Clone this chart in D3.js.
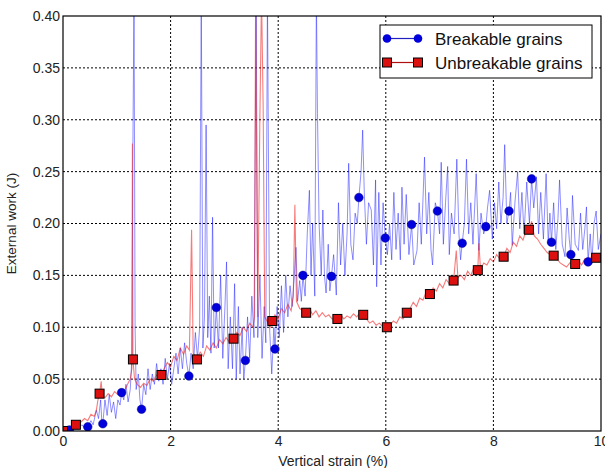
<!DOCTYPE html>
<html>
<head>
<meta charset="utf-8">
<script src="https://cdn.jsdelivr.net/npm/d3@7"></script>
<style>
  body { margin: 0; background: #fff; }
  text { font-family: "Liberation Sans", Arial, sans-serif; }
</style>
</head>
<body>
<svg width="605" height="468"></svg>
<script>
// ticks
var xTicks = [0, 2, 4, 6, 8, 10];
var yTicks = [0, 0.05, 0.10, 0.15, 0.20, 0.25, 0.30, 0.35, 0.40];

// markers (every n-th sample of each run)
var brkMarkers = [[0.12,0.001],[0.46,0.004],[0.74,0.007],[1.09,0.037],[1.46,0.021],[2.34,0.053],
  [2.85,0.119],[3.39,0.068],[3.94,0.079],[4.46,0.150],[4.99,0.149],[5.50,0.225],[5.99,0.186],
  [6.48,0.199],[6.96,0.212],[7.42,0.181],[7.86,0.197],[8.29,0.212],[8.71,0.243],[9.08,0.182],
  [9.44,0.170],[9.76,0.163]];
var unbMarkers = [[0,0],[0.24,0.006],[0.68,0.036],[1.30,0.069],[1.83,0.054],[2.49,0.069],
  [3.17,0.089],[3.89,0.106],[4.52,0.114],[5.10,0.108],[5.58,0.112],[6.02,0.100],[6.39,0.114],
  [6.82,0.132],[7.26,0.145],[7.71,0.155],[8.19,0.168],[8.66,0.194],[9.12,0.169],[9.52,0.161],
  [9.91,0.167]];

// raw work curves
var brkTrace = [[0,0],[0.05,0.001],[0.2,0.003],[0.28,0.002],[0.35,0.006],[0.4,0.003],[0.52,0.010],
  [0.56,0.006],[0.62,0.020],[0.66,0.012],[0.70,0.030],[0.72,0.010],[0.78,0.030],[0.82,0.015],
  [0.86,0.035],[0.90,0.018],[0.94,0.028],[0.98,0.012],[1.02,0.030],[1.06,0.025],[1.13,0.030],
  [1.17,0.045],[1.21,0.028],[1.25,0.040],[1.28,0.070],[1.30,0.280],[1.32,0.420],[1.34,0.100],
  [1.36,0.040],[1.40,0.055],[1.43,0.030],[1.50,0.045],[1.54,0.035],[1.58,0.060],[1.62,0.040],
  [1.66,0.055],[1.70,0.045],[1.74,0.065],[1.78,0.048],[1.82,0.060],[1.86,0.045],[1.90,0.070],
  [1.94,0.050],[1.98,0.065],[2.02,0.045],[2.06,0.060],[2.10,0.075],[2.14,0.055],[2.18,0.080],
  [2.22,0.060],[2.26,0.085],[2.30,0.065],[2.38,0.075],[2.42,0.060],[2.46,0.095],[2.50,0.070],
  [2.54,0.100],[2.57,0.420],[2.60,0.080],[2.63,0.110],[2.66,0.295],[2.69,0.090],[2.72,0.130],
  [2.75,0.075],[2.78,0.206],[2.81,0.080],[2.89,0.080],[2.93,0.150],[2.97,0.070],[3.01,0.120],
  [3.04,0.163],[3.07,0.060],[3.11,0.110],[3.15,0.060],[3.19,0.142],[3.22,0.050],[3.26,0.120],
  [3.29,0.055],[3.33,0.100],[3.36,0.050],[3.43,0.110],[3.47,0.070],[3.51,0.130],[3.55,0.090],
  [3.59,0.420],[3.62,0.090],[3.66,0.150],[3.70,0.070],[3.74,0.120],[3.77,0.085],[3.80,0.420],
  [3.84,0.100],[3.88,0.055],[3.92,0.100],[3.98,0.120],[4.02,0.090],[4.06,0.140],[4.10,0.095],
  [4.14,0.150],[4.18,0.110],[4.22,0.140],[4.26,0.120],[4.30,0.150],[4.33,0.177],[4.36,0.125],
  [4.40,0.145],[4.43,0.125],[4.50,0.130],[4.54,0.190],[4.58,0.232],[4.61,0.150],[4.64,0.200],
  [4.68,0.130],[4.71,0.420],[4.73,0.306],[4.76,0.200],[4.80,0.150],[4.83,0.213],[4.86,0.150],
  [4.89,0.133],[4.93,0.180],[4.96,0.135],[5.03,0.170],[5.08,0.131],[5.12,0.220],[5.16,0.160],
  [5.20,0.200],[5.24,0.150],[5.28,0.190],[5.31,0.258],[5.35,0.180],[5.39,0.165],[5.43,0.210],
  [5.47,0.200],[5.54,0.250],[5.57,0.290],[5.60,0.230],[5.64,0.180],[5.68,0.220],[5.73,0.213],
  [5.77,0.160],[5.81,0.242],[5.83,0.139],[5.87,0.230],[5.91,0.160],[5.95,0.220],[6.03,0.170],
  [6.07,0.200],[6.11,0.165],[6.15,0.230],[6.19,0.175],[6.23,0.210],[6.27,0.165],[6.30,0.235],
  [6.34,0.180],[6.38,0.228],[6.43,0.170],[6.52,0.160],[6.58,0.174],[6.62,0.220],[6.66,0.180],
  [6.72,0.264],[6.76,0.190],[6.80,0.230],[6.84,0.175],[6.87,0.160],[6.92,0.220],[7.00,0.190],
  [7.03,0.259],[7.07,0.180],[7.11,0.220],[7.15,0.255],[7.18,0.170],[7.22,0.210],[7.27,0.190],
  [7.32,0.262],[7.36,0.190],[7.39,0.165],[7.46,0.200],[7.50,0.262],[7.54,0.190],[7.58,0.220],
  [7.62,0.180],[7.68,0.248],[7.73,0.174],[7.77,0.210],[7.82,0.190],[7.89,0.215],[7.93,0.232],
  [7.98,0.185],[8.02,0.220],[8.06,0.195],[8.10,0.240],[8.14,0.200],[8.18,0.225],[8.21,0.276],
  [8.25,0.200],[8.32,0.230],[8.35,0.179],[8.40,0.220],[8.45,0.250],[8.49,0.195],[8.53,0.230],
  [8.57,0.190],[8.62,0.240],[8.67,0.200],[8.75,0.215],[8.80,0.245],[8.84,0.190],[8.88,0.230],
  [8.93,0.185],[8.98,0.248],[9.02,0.180],[9.05,0.210],[9.12,0.220],[9.16,0.175],[9.20,0.205],
  [9.23,0.242],[9.28,0.180],[9.33,0.168],[9.37,0.215],[9.41,0.185],[9.47,0.227],[9.52,0.180],
  [9.58,0.174],[9.62,0.210],[9.66,0.175],[9.70,0.195],[9.73,0.216],[9.80,0.190],[9.83,0.162],
  [9.87,0.200],[9.91,0.212],[9.95,0.175],[10,0.190]];

var unbTrace = [[0.10,0.001],[0.32,0.008],[0.40,0.012],[0.46,0.010],[0.52,0.016],[0.58,0.014],
  [0.62,0.020],[0.65,0.030],[0.71,0.048],[0.73,0.034],[0.78,0.032],[0.84,0.036],[0.90,0.033],
  [0.96,0.038],[1.02,0.035],[1.08,0.040],[1.14,0.038],[1.20,0.045],[1.25,0.050],[1.28,0.060],
  [1.29,0.277],[1.33,0.050],[1.38,0.045],[1.44,0.042],[1.50,0.046],[1.56,0.044],[1.62,0.050],
  [1.68,0.048],[1.74,0.054],[1.80,0.052],[1.88,0.060],[1.94,0.066],[2.00,0.062],[2.06,0.072],
  [2.12,0.068],[2.18,0.080],[2.24,0.074],[2.30,0.082],[2.35,0.078],[2.39,0.194],[2.42,0.075],
  [2.46,0.072],[2.55,0.076],[2.61,0.072],[2.67,0.082],[2.73,0.078],[2.79,0.085],[2.85,0.080],
  [2.91,0.088],[2.97,0.084],[3.03,0.090],[3.09,0.086],[3.23,0.095],[3.29,0.092],[3.35,0.100],
  [3.41,0.096],[3.47,0.104],[3.53,0.100],[3.56,0.110],[3.58,0.420],[3.62,0.110],[3.66,0.304],
  [3.69,0.420],[3.72,0.314],[3.75,0.110],[3.80,0.105],[3.85,0.100],[3.94,0.112],[4.00,0.108],
  [4.06,0.118],[4.12,0.114],[4.18,0.122],[4.24,0.116],[4.28,0.130],[4.31,0.218],[4.34,0.125],
  [4.40,0.118],[4.46,0.116],[4.58,0.118],[4.64,0.112],[4.70,0.116],[4.76,0.110],[4.82,0.114],
  [4.88,0.110],[4.94,0.112],[5.00,0.108],[5.16,0.112],[5.22,0.108],[5.28,0.111],[5.34,0.109],
  [5.40,0.113],[5.46,0.110],[5.52,0.114],[5.64,0.108],[5.70,0.104],[5.76,0.106],[5.82,0.102],
  [5.88,0.104],[5.94,0.101],[6.08,0.102],[6.14,0.106],[6.20,0.104],[6.26,0.110],[6.32,0.108],
  [6.45,0.118],[6.51,0.124],[6.57,0.120],[6.63,0.128],[6.69,0.126],[6.75,0.134],[6.88,0.138],
  [6.94,0.135],[7.00,0.142],[7.06,0.138],[7.12,0.146],[7.18,0.142],[7.31,0.174],[7.34,0.148],
  [7.40,0.150],[7.46,0.146],[7.52,0.154],[7.58,0.150],[7.64,0.158],[7.73,0.181],[7.76,0.156],
  [7.82,0.162],[7.88,0.160],[7.94,0.166],[8.00,0.163],[8.06,0.170],[8.12,0.166],[8.25,0.176],
  [8.31,0.172],[8.37,0.182],[8.43,0.178],[8.49,0.188],[8.55,0.184],[8.60,0.192],[8.71,0.202],
  [8.76,0.188],[8.82,0.185],[8.88,0.180],[8.94,0.176],[9.00,0.172],[9.06,0.170],[9.18,0.166],
  [9.24,0.162],[9.30,0.160],[9.36,0.158],[9.42,0.162],[9.58,0.164],[9.64,0.160],[9.70,0.166],
  [9.76,0.163],[9.82,0.168],[10,0.170]];

var svg = d3.select("svg");
var padL = 63, padR = 601, padT = 16, padB = 431;

var x = d3.scaleLinear().domain([0, 10]).range([padL, padR]);
var y = d3.scaleLinear().domain([0, 0.4]).range([padB, padT]);

svg.append("defs").append("clipPath").attr("id", "clip")
  .append("rect").attr("x", padL).attr("y", padT).attr("width", padR - padL).attr("height", padB - padT);

// grid
svg.append("g").selectAll("line").data(xTicks.slice(1, -1)).enter().append("line")
  .attr("x1", d => x(d)).attr("x2", d => x(d)).attr("y1", padT).attr("y2", padB)
  .attr("stroke", "#000").attr("stroke-dasharray", "2,2");
svg.append("g").selectAll("line").data(yTicks.slice(1, -1)).enter().append("line")
  .attr("y1", d => y(d)).attr("y2", d => y(d)).attr("x1", padL).attr("x2", padR)
  .attr("stroke", "#000").attr("stroke-dasharray", "2,2");

function merged(trace, marks) {
  return trace.concat(marks).sort(function(a, b) { return a[0] - b[0]; });
}

var line = d3.line().x(d => x(d[0])).y(d => y(d[1]));
var plot = svg.append("g").attr("clip-path", "url(#clip)");

plot.append("path").datum(merged(brkTrace, brkMarkers)).attr("d", line)
  .attr("fill", "none").attr("stroke", "#2020ff").attr("stroke-opacity", 0.5).attr("stroke-width", 1);
plot.append("path").datum(merged(unbTrace, unbMarkers)).attr("d", line)
  .attr("fill", "none").attr("stroke", "#ee1010").attr("stroke-opacity", 0.55).attr("stroke-width", 1.1);

plot.selectAll("circle.brk").data(brkMarkers).enter().append("circle")
  .attr("cx", d => x(d[0])).attr("cy", d => y(d[1])).attr("r", 4.3)
  .attr("fill", "#0000dd").attr("stroke", "#00008b").attr("stroke-width", 0.5);
plot.selectAll("rect.unb").data(unbMarkers).enter().append("rect")
  .attr("x", d => x(d[0]) - 4.5).attr("y", d => y(d[1]) - 4.5).attr("width", 9).attr("height", 9)
  .attr("fill", "#dd1010").attr("stroke", "#000").attr("stroke-width", 1);

// axes
var xAxis = d3.axisBottom(x).tickValues(xTicks).tickSize(0).tickPadding(5).tickFormat(d3.format("d"));
var yAxis = d3.axisLeft(y).tickValues(yTicks).tickSize(0).tickPadding(3).tickFormat(d3.format(".2f"));
svg.append("g").attr("transform", "translate(0," + padB + ")").call(xAxis)
  .call(g => g.select(".domain").remove())
  .selectAll("text").attr("font-size", 14).attr("fill", "#222");
svg.append("g").attr("transform", "translate(" + padL + ",0)").call(yAxis)
  .call(g => g.select(".domain").remove())
  .selectAll("text").attr("font-size", 14).attr("fill", "#222");

svg.append("rect").attr("x", padL).attr("y", padT).attr("width", padR - padL).attr("height", padB - padT)
  .attr("fill", "none").attr("stroke", "#000").attr("stroke-width", 1.2);

svg.append("text").attr("x", 333).attr("y", 466).attr("text-anchor", "middle")
  .attr("font-size", 14).attr("fill", "#222").text("Vertical strain (%)");
svg.append("text").attr("transform", "translate(16," + ((padT + padB) / 2) + ") rotate(-90)")
  .attr("text-anchor", "middle").attr("font-size", 13.5).attr("fill", "#222").text("External work (J)");

// legend
var lg = svg.append("g");
lg.append("rect").attr("x", 380).attr("y", 25).attr("width", 212).attr("height", 53)
  .attr("fill", "#fff").attr("stroke", "#000").attr("stroke-width", 1);
var items = [["Breakable grains", "circle"], ["Unbreakable grains", "square"]];
items.forEach(function(it, i) {
  var yy = 38.5 + i * 24;
  lg.append("line").attr("x1", 387).attr("x2", 418).attr("y1", yy).attr("y2", yy)
    .attr("stroke", i ? "#b01010" : "#2020c0").attr("stroke-width", 1.2);
  [387, 418].forEach(function(xx) {
    if (i == 0) {
      lg.append("circle").attr("cx", xx).attr("cy", yy).attr("r", 4.3).attr("fill", "#0000dd");
    } else {
      lg.append("rect").attr("x", xx - 4.5).attr("y", yy - 4.5).attr("width", 9).attr("height", 9)
        .attr("fill", "#dd1010").attr("stroke", "#000");
    }
  });
  lg.append("text").attr("x", 435).attr("y", yy + 6).attr("font-size", 17).attr("fill", "#111").text(it[0]);
});
</script>
</body>
</html>
